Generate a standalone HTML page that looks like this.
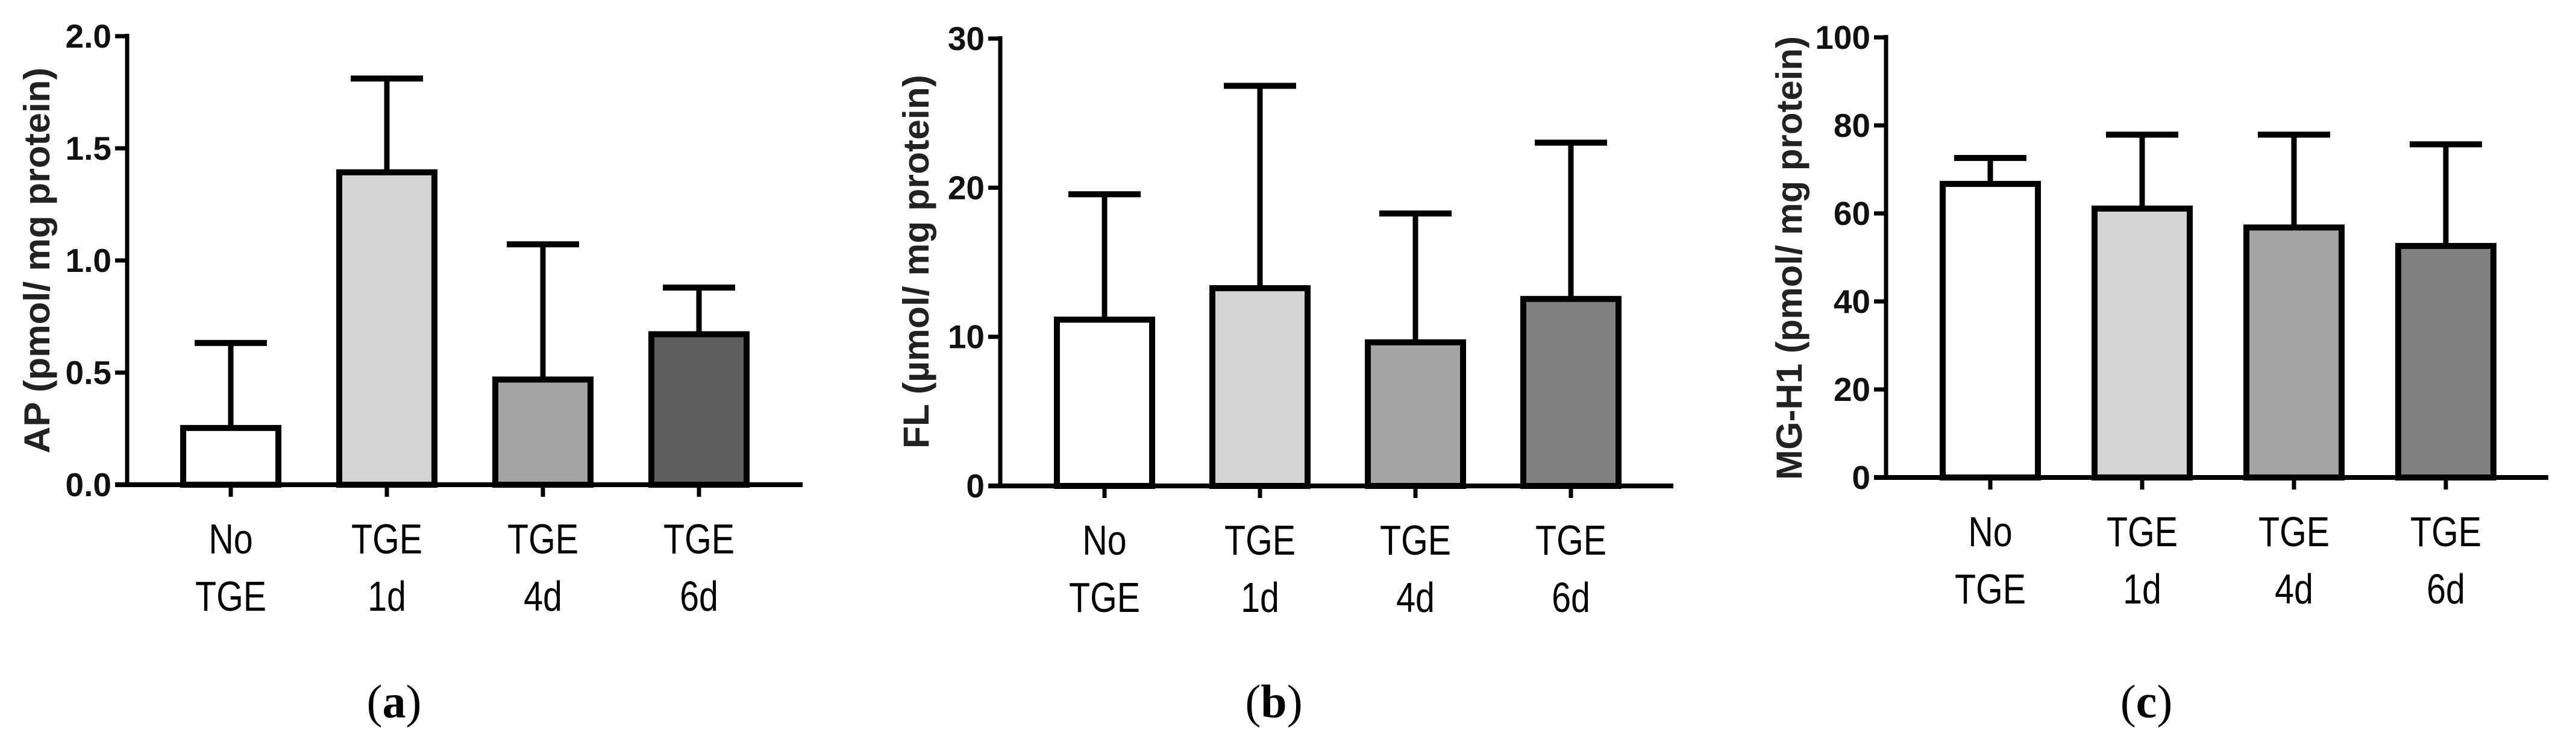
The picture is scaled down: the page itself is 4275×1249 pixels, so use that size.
<!DOCTYPE html>
<html><head><meta charset="utf-8"><style>
html,body{margin:0;padding:0;background:#fff}
svg{display:block}
text{font-family:"Liberation Sans",sans-serif}
</style></head><body>
<svg id="fig" width="4275" height="1249" viewBox="0 0 4275 1249" xmlns="http://www.w3.org/2000/svg"></svg>
<script>
const categoriesTop = ["No","TGE","TGE","TGE"];
const categoriesBottom = ["TGE","1d","4d","6d"];
const apValues = [0.253, 1.393, 0.469, 0.671];
const apErrors = [0.632, 1.811, 1.072, 0.879];
const apTicks = ["0.0","0.5","1.0","1.5","2.0"];
const flValues = [11.15, 13.26, 9.63, 12.54];
const flErrors = [19.56, 26.83, 18.27, 23.02];
const flTicks = ["0","10","20","30"];
const mgValues = [66.7, 61.1, 56.8, 52.6];
const mgErrors = [72.6, 77.9, 77.9, 75.7];
const mgTicks = ["0","20","40","60","80","100"];

const panels = [
 {id:"a", ax:211, top:60, zero:804, xEnd:1332, centers0:383, step:259, max:2, values:apValues, errors:apErrors, ticks:apTicks, fills:["#ffffff","#d4d4d4","#a4a4a4","#5e5e5e"], title:"AP (pmol/ mg protein)", titleX:61, titleY:432, titleLen:640, cap:654},
 {id:"b", ax:1660, top:64, zero:806, xEnd:2777, centers0:1833, step:258, max:30, values:flValues, errors:flErrors, ticks:flTicks, fills:["#ffffff","#d4d4d4","#a4a4a4","#808080"], title:"FL (µmol/ mg protein)", titleX:1520, titleY:434, titleLen:620, cap:2114},
 {id:"c", ax:3130, top:62, zero:792, xEnd:4229, centers0:3303, step:252, max:100, values:mgValues, errors:mgErrors, ticks:mgTicks, fills:["#ffffff","#d4d4d4","#a4a4a4","#808080"], title:"MG-H1 (pmol/ mg protein)", titleX:2969, titleY:428, titleLen:736, cap:3562}
];
const NS="http://www.w3.org/2000/svg";
const svg=document.getElementById("fig");
function mk(tag,attrs,parent){const e=document.createElementNS(NS,tag);for(const k in attrs)e.setAttribute(k,attrs[k]);(parent||svg).appendChild(e);return e;}

panels.forEach(p=>{
  const g=mk("g",{});
  
  
  const y=v=>p.zero-(v/p.max)*(p.zero-p.top);
  const x=i=>p.centers0+i*p.step;
  p.values.forEach((v,i)=>{
    const bw=158;
    const eb=mk("line",{x1:x(i),x2:x(i),y1:y(p.errors[i]),y2:y(v),stroke:"#000","stroke-width":9},g);
    
    
    const ec=mk("line",{x1:x(i)-60,x2:x(i)+60,y1:y(p.errors[i]),y2:y(p.errors[i]),stroke:"#000","stroke-width":10},g);
    
    
    const r=mk("rect",{x:x(i)-bw/2,y:y(v),width:bw,height:p.zero-y(v),fill:p.fills[i],stroke:"#000","stroke-width":10},g);
    
    
  });
  const ya=mk("line",{x1:p.ax,x2:p.ax,y1:p.top-4,y2:p.zero+4,stroke:"#000","stroke-width":7},g);
  
  
  const xa=mk("line",{x1:p.ax-20,x2:p.xEnd,y1:p.zero,y2:p.zero,stroke:"#000","stroke-width":8},g);
  
  
  p.ticks.forEach((t,k)=>{
    const v=k*p.max/(p.ticks.length-1);
    const tk=mk("line",{x1:p.ax-20,x2:p.ax,y1:y(v),y2:y(v),stroke:"#000","stroke-width":7},g);
    
    
    const tl=mk("text",{x:p.ax-26,y:y(v)+19,"text-anchor":"end","font-size":55,"font-weight":"bold",fill:"#111"},g);
    tl.textContent=t;
    
    
  });
  categoriesTop.forEach((c,i)=>{
    const tk=mk("line",{x1:x(i),x2:x(i),y1:p.zero,y2:p.zero+20,stroke:"#000","stroke-width":7},g);
    
    
    const t1=mk("text",{x:0,y:0,transform:`translate(${x(i)},${p.zero+114}) scale(0.82,1)`,"text-anchor":"middle","font-size":70,fill:"#000"},g);
    t1.textContent=c;
    
    
    const t2=mk("text",{x:0,y:0,transform:`translate(${x(i)},${p.zero+209}) scale(0.82,1)`,"text-anchor":"middle","font-size":70,fill:"#000"},g);
    t2.textContent=categoriesBottom[i];
    
    
  });
  const tt=mk("text",{x:0,y:0,transform:`translate(${p.titleX+21},${p.titleY}) rotate(-90)`,"text-anchor":"middle","font-size":60,"font-weight":"bold",fill:"#222",textLength:p.titleLen,lengthAdjust:"spacingAndGlyphs"},g);
  tt.textContent=p.title;
  
  
  const cp=mk("text",{x:p.cap,y:1190,"text-anchor":"middle","font-size":78,style:'font-family:"Liberation Serif",serif',fill:"#000"},g);
  cp.innerHTML='(<tspan font-weight="bold">'+p.id+'</tspan>)';
  
  
});
</script>
</body></html>
